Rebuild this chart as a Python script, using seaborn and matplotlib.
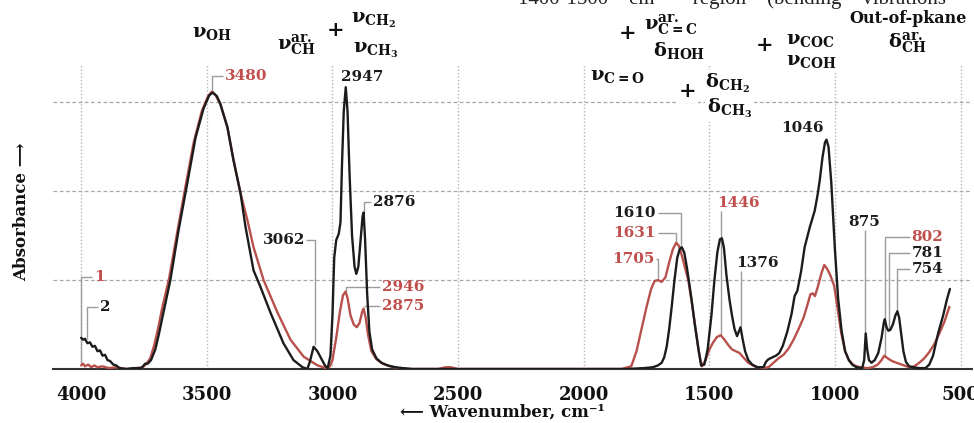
import numpy as np
import pandas as pd
import matplotlib
matplotlib.use("Agg")
import matplotlib.pyplot as plt
import seaborn as sns

# ---------------- data ----------------
wn_black = [4000, 3992, 3985, 3975, 3965, 3955, 3945, 3935, 3925, 3915, 3905, 3895, 3885, 3872, 3860,
            3848, 3820, 3790, 3760, 3745, 3735, 3722, 3705, 3690, 3673, 3645, 3613, 3577, 3545, 3513,
            3490, 3476, 3460, 3446, 3418, 3394, 3366, 3346, 3314, 3286, 3246, 3195, 3155, 3119, 3100,
            3090, 3075, 3060, 3047, 3030, 3019, 3008, 3000, 2993, 2985, 2975, 2968, 2962, 2955, 2947,
            2940, 2932, 2922, 2912, 2905, 2897, 2888, 2880, 2876, 2870, 2862, 2853, 2842, 2825, 2805,
            2780, 2750, 2720, 2680, 1830, 1760, 1725, 1705, 1690, 1680, 1670, 1660, 1650, 1639, 1628,
            1618, 1610, 1600, 1590, 1580, 1570, 1558, 1545, 1533, 1520, 1507, 1492, 1480, 1468, 1458,
            1450, 1442, 1432, 1420, 1410, 1400, 1390, 1383, 1376, 1368, 1358, 1345, 1330, 1310, 1285,
            1275, 1265, 1250, 1235, 1222, 1208, 1190, 1173, 1161, 1150, 1135, 1121, 1100, 1081, 1070,
            1061, 1050, 1040, 1034, 1026, 1015, 1001, 988, 974, 960, 945, 932, 915, 892, 884,
            878, 872, 865, 855, 842, 828, 815, 806, 802, 795, 788, 780, 770, 760, 752,
            745, 737, 728, 718, 705, 690, 665, 640, 625, 610, 590, 570, 555, 543]
abs_black = [0.35, 0.33, 0.34, 0.29, 0.30, 0.25, 0.26, 0.20, 0.21, 0.15, 0.16, 0.10, 0.09, 0.05, 0.04,
             0.01, 0.00, 0.01, 0.01, 0.06, 0.06, 0.10, 0.22, 0.40, 0.63, 1.00, 1.55, 2.10, 2.60, 2.93,
             3.08, 3.11, 3.07, 2.98, 2.72, 2.35, 1.98, 1.60, 1.11, 0.92, 0.63, 0.29, 0.10, 0.02, 0.00,
             0.08, 0.25, 0.20, 0.13, 0.04, 0.01, 0.15, 0.60, 1.25, 1.45, 1.52, 1.65, 2.30, 2.90, 3.17,
             2.90, 2.20, 1.50, 1.15, 1.07, 1.15, 1.45, 1.72, 1.76, 1.45, 0.85, 0.42, 0.22, 0.12, 0.07,
             0.04, 0.02, 0.01, 0.00, 0.00, 0.01, 0.02, 0.04, 0.07, 0.13, 0.25, 0.45, 0.70, 1.00, 1.25,
             1.35, 1.37, 1.31, 1.15, 0.96, 0.76, 0.50, 0.25, 0.04, 0.05, 0.22, 0.60, 1.00, 1.32, 1.46,
             1.47, 1.36, 1.05, 0.78, 0.60, 0.45, 0.37, 0.42, 0.47, 0.34, 0.20, 0.10, 0.05, 0.02, 0.02,
             0.08, 0.11, 0.13, 0.15, 0.18, 0.26, 0.42, 0.62, 0.82, 0.88, 1.10, 1.37, 1.60, 1.78, 1.95,
             2.12, 2.38, 2.55, 2.58, 2.50, 2.10, 1.37, 0.80, 0.43, 0.20, 0.10, 0.05, 0.02, 0.01, 0.10,
             0.40, 0.22, 0.10, 0.07, 0.10, 0.18, 0.35, 0.52, 0.56, 0.47, 0.43, 0.44, 0.50, 0.60, 0.65,
             0.58, 0.40, 0.20, 0.08, 0.03, 0.02, 0.01, 0.01, 0.05, 0.15, 0.40, 0.60, 0.78, 0.90]

wn_red = [4000, 3992, 3985, 3972, 3960, 3948, 3935, 3915, 3890, 3860, 3820, 3780, 3755, 3740, 3725,
          3708, 3692, 3678, 3650, 3620, 3585, 3552, 3520, 3495, 3480, 3465, 3446, 3418, 3394, 3366,
          3338, 3314, 3274, 3218, 3167, 3115, 3059, 3025, 3010, 3000, 2985, 2970, 2958, 2948, 2940,
          2928, 2915, 2903, 2892, 2882, 2876, 2868, 2858, 2845, 2825, 2800, 2770, 2740, 2700, 2580,
          2550, 2530, 2500, 1850, 1811, 1790, 1770, 1750, 1732, 1718, 1705, 1690, 1675, 1660, 1645,
          1632, 1620, 1610, 1598, 1584, 1570, 1555, 1540, 1530, 1515, 1500, 1485, 1470, 1455, 1440,
          1425, 1410, 1395, 1380, 1365, 1345, 1320, 1290, 1265, 1245, 1225, 1205, 1185, 1165, 1145,
          1125, 1110, 1098, 1088, 1080, 1068, 1055, 1043, 1032, 1018, 1003, 990, 975, 960, 945,
          925, 900, 870, 850, 830, 815, 804, 795, 780, 765, 745, 725, 705, 685, 665,
          645, 625, 605, 585, 565, 545]
abs_red = [0.04, 0.06, 0.03, 0.05, 0.02, 0.04, 0.02, 0.03, 0.01, 0.02, 0.00, 0.01, 0.02, 0.06, 0.12,
           0.28, 0.48, 0.68, 1.02, 1.50, 2.05, 2.55, 2.90, 3.07, 3.12, 3.08, 2.98, 2.72, 2.36, 1.98,
           1.67, 1.37, 1.00, 0.63, 0.33, 0.14, 0.04, 0.01, 0.03, 0.10, 0.35, 0.65, 0.83, 0.87, 0.80,
           0.60, 0.50, 0.47, 0.52, 0.64, 0.68, 0.58, 0.38, 0.20, 0.11, 0.06, 0.03, 0.01, 0.00, 0.00,
           0.02, 0.02, 0.00, 0.00, 0.03, 0.20, 0.45, 0.70, 0.90, 0.99, 1.00, 0.98, 1.03, 1.20, 1.35,
           1.42, 1.38, 1.28, 1.15, 1.00, 0.75, 0.45, 0.16, 0.03, 0.10, 0.22, 0.30, 0.36, 0.38, 0.33,
           0.27, 0.22, 0.20, 0.18, 0.13, 0.07, 0.03, 0.01, 0.02, 0.07, 0.12, 0.16, 0.23, 0.33, 0.45,
           0.58, 0.72, 0.84, 0.85, 0.82, 0.93, 1.07, 1.17, 1.13, 1.05, 0.93, 0.68, 0.40, 0.20, 0.10,
           0.04, 0.02, 0.01, 0.02, 0.05, 0.10, 0.15, 0.13, 0.10, 0.08, 0.06, 0.04, 0.02, 0.03, 0.07,
           0.12, 0.19, 0.28, 0.40, 0.53, 0.70]

sample_names = ["1", "2"]
tick_values = [4000, 3500, 3000, 2500, 2000, 1500, 1000, 500]

# ---------------- style ----------------
sns.set_theme(style="white")
plt.rcParams["font.family"] = ["DejaVu Serif", "DejaVu Sans"]
plt.rcParams["font.weight"] = "bold"
plt.rcParams["mathtext.fontset"] = "custom"
plt.rcParams["mathtext.rm"] = "DejaVu Serif:bold"
plt.rcParams["mathtext.it"] = "DejaVu Serif:bold"
plt.rcParams["mathtext.bf"] = "DejaVu Serif:bold"
plt.rcParams["mathtext.default"] = "rm"

BLACK = "#1c1c1c"
RED = "#b8504c"
RED_TXT = "#c0504d"
LEAD = "#9c9c9c"

df = pd.concat([
    pd.DataFrame({"wn": wn_red, "A": abs_red, "sample": sample_names[0]}),
    pd.DataFrame({"wn": wn_black, "A": abs_black, "sample": sample_names[1]}),
], ignore_index=True)

fig = plt.figure(figsize=(9.74, 4.23), dpi=100)
ax = fig.add_axes([53 / 974, 54 / 423, (972 - 53) / 974, (369 - 65) / 423])

sns.lineplot(data=df, x="wn", y="A", hue="sample", hue_order=sample_names,
             palette={sample_names[0]: RED, sample_names[1]: BLACK},
             sort=False, estimator=None, legend=False, lw=1.7, ax=ax, zorder=3)

ax.set_xlim(4112, 455)
ax.set_ylim(0, 3.42)
ax.set_xticks(tick_values)
ax.set_xticklabels([str(v) for v in tick_values])
ax.set_yticks([1, 2, 3])
ax.tick_params(axis="y", length=0, labelleft=False)
ax.tick_params(axis="x", direction="out", length=6, width=1.5, color="#333333",
               labelsize=13, pad=6, labelcolor="#111111")
for lbl in ax.get_xticklabels():
    lbl.set_fontweight("bold")
ax.set_xlabel("")
ax.set_ylabel("")
for s in ["top", "right", "left"]:
    ax.spines[s].set_visible(False)
ax.spines["bottom"].set_color("#333333")
ax.spines["bottom"].set_linewidth(1.5)
ax.set_axisbelow(True)
ax.xaxis.grid(True, color="#b5b5b5", linestyle=(0, (1, 1.5)), lw=1.0)
ax.yaxis.grid(True, color="#a8a8a8", linestyle=(0, (3, 2)), lw=0.9)

# ---------------- peak annotations ----------------
def val(wns, abss, w):
    i = int(np.argmin(np.abs(np.array(wns) - w)))
    return abss[i]

def leader(pts):
    xs, ys = zip(*pts)
    ax.plot(xs, ys, color=LEAD, lw=1.0, zorder=2, solid_capstyle="butt")

fs = 11
def lab(x, y, s, color, ha="left"):
    ax.text(x, y, s, color=color, fontsize=fs, fontweight="bold", ha=ha, va="center", zorder=5)

# red 3480
leader([(3480, val(wn_red, abs_red, 3480)), (3480, 3.30), (3436, 3.30)])
lab(3428, 3.30, "3480", RED_TXT)
# black 2947
lab(2880, 3.28, "2947", BLACK, ha="center")
# black 2876
leader([(2876, val(wn_black, abs_black, 2876)), (2876, 1.88), (2846, 1.88)])
lab(2840, 1.88, "2876", BLACK)
# black 3062
leader([(3104, 1.45), (3070, 1.45), (3070, 0.27)])
lab(3108, 1.45, "3062", BLACK, ha="right")
# red 2946, 2875
leader([(2946, val(wn_red, abs_red, 2948)), (2946, 0.92), (2810, 0.92)])
lab(2804, 0.92, "2946", RED_TXT)
leader([(2876, 0.71), (2810, 0.71)])
lab(2804, 0.71, "2875", RED_TXT)
# curve numbers
leader([(4000, 0.06), (4000, 1.04), (3956, 1.04)])
lab(3950, 1.04, "1", RED_TXT)
leader([(3978, 0.34), (3978, 0.70), (3932, 0.70)])
lab(3926, 0.70, "2", BLACK)
# 1610 / 1631 / 1705
leader([(1706, 1.75), (1612, 1.75), (1612, 1.39)])
lab(1712, 1.75, "1610", BLACK, ha="right")
leader([(1706, 1.53), (1632, 1.53), (1632, 1.43)])
lab(1712, 1.53, "1631", RED_TXT, ha="right")
leader([(1712, 1.24), (1703, 1.24), (1703, 1.01)])
lab(1718, 1.24, "1705", RED_TXT, ha="right")
# 1446
leader([(1452, 1.78), (1452, 0.38)])
lab(1468, 1.87, "1446", RED_TXT)
# 1376
leader([(1376, 1.10), (1376, 0.48)])
lab(1392, 1.19, "1376", BLACK)
# 1046
lab(1129, 2.71, "1046", BLACK, ha="center")
# 875
leader([(879, 1.56), (879, 0.41)])
lab(946, 1.65, "875", BLACK)
# 802 / 781 / 754
leader([(802, 0.16), (802, 1.48), (700, 1.48)])
lab(695, 1.48, "802", RED_TXT)
leader([(786, 0.44), (786, 1.31), (700, 1.31)])
lab(695, 1.31, "781", BLACK)
leader([(752, 0.66), (752, 1.13), (700, 1.13)])
lab(695, 1.13, "754", BLACK)

# ---------------- band assignments ----------------
bb = dict(facecolor="white", edgecolor="none", pad=1.5)
def band(x, y, s, size=14, ha="center"):
    ax.text(x, y, s, fontsize=size, color="#111111", ha=ha, va="center", zorder=6,
            bbox=bb, clip_on=False)

band(3478, 3.78, r"$ν_{OH}$")
band(3143, 3.64, r"$ν_{CH}^{ar.}$")
band(2987, 3.81, "+", size=15)
band(2836, 3.92, r"$ν_{CH_2}$")
band(2828, 3.58, r"$ν_{CH_3}$")
band(1827, 3.78, "+", size=15)
band(1651, 3.87, r"$ν_{C=C}^{ar.}$")
band(1620, 3.58, r"$δ_{HOH}$")
band(1867, 3.30, r"$ν_{C=O}$")
band(1588, 3.13, "+", size=15)
band(1428, 3.21, r"$δ_{CH_2}$")
band(1420, 2.93, r"$δ_{CH_3}$")
band(1281, 3.64, "+", size=15)
band(1097, 3.70, r"$ν_{COC}$")
band(1093, 3.47, r"$ν_{COH}$")
band(708, 3.94, "Out-of-pkane", size=11.5)
band(714, 3.66, r"$δ_{CH}^{ar.}$")

# ---------------- axis titles ----------------
fig.text(22 / 974, 1 - 212 / 423, "Absorbance ⟶", rotation=90, ha="center", va="center",
         fontsize=12, fontweight="bold", color="#111111",
         family=["DejaVu Serif", "DejaVu Sans"])
fig.text(502 / 974, 1 - 412 / 423, "⟵ Wavenumber, cm⁻¹", ha="center", va="center",
         fontsize=12, fontweight="bold", color="#111111",
         family=["DejaVu Serif", "DejaVu Sans"])
# caption line of the source page, cut off by the top edge as in the reference
fig.text(518 / 974, 1 - 4 / 423, "1400-1500    cm⁻¹    region    (bending    vibrations",
         ha="left", va="baseline", fontsize=15, fontweight="normal", color="#222222",
         family=["Liberation Serif", "DejaVu Serif"])

fig.savefig("out.png", dpi=100)
